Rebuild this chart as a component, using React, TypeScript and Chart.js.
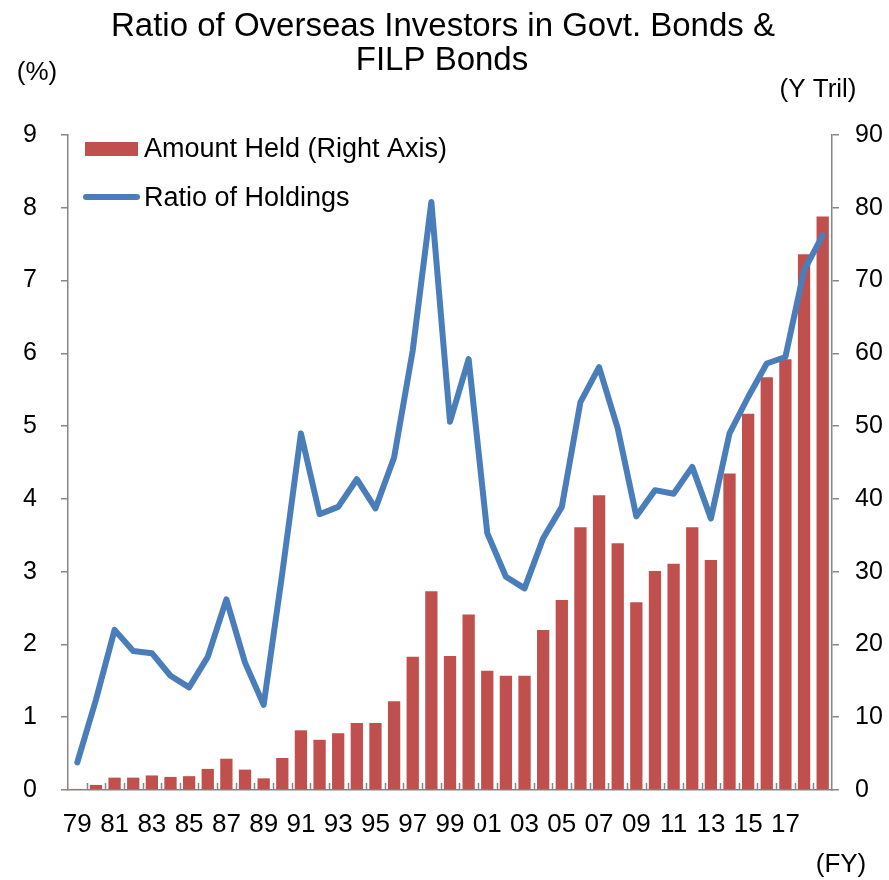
import React, { useEffect, useRef } from 'react';
import { Chart, registerables } from 'chart.js';

Chart.register(...registerables);

const categories = [
  '79', '80', '81', '82', '83', '84', '85', '86', '87', '88', '89',
  '90', '91', '92', '93', '94', '95', '96', '97', '98', '99',
  '00', '01', '02', '03', '04', '05', '06', '07', '08', '09',
  '10', '11', '12', '13', '14', '15', '16', '17', '18', '19',
];

const xTickLabels = [
  '79', '81', '83', '85', '87', '89', '91', '93', '95', '97', '99',
  '01', '03', '05', '07', '09', '11', '13', '15', '17',
];

// Amount held by overseas investors (Y Tril, right axis)
const amountHeld = [
  0.15, 0.7, 1.7, 1.7, 2.0, 1.8, 1.9, 2.9, 4.3, 2.8, 1.6,
  4.4, 8.2, 6.9, 7.8, 9.2, 9.2, 12.2, 18.3, 27.3, 18.4,
  24.1, 16.4, 15.7, 15.7, 22.0, 26.1, 36.1, 40.5, 33.9, 25.8,
  30.1, 31.1, 36.1, 31.6, 43.5, 51.7, 56.7, 59.2, 73.6, 78.8,
];

// Ratio of holdings (%, left axis)
const ratioOfHoldings = [
  0.38, 1.24, 2.2, 1.91, 1.88, 1.57, 1.41, 1.83, 2.62, 1.75, 1.17,
  2.98, 4.9, 3.79, 3.89, 4.27, 3.87, 4.57, 6.04, 8.08, 5.06,
  5.92, 3.53, 2.93, 2.77, 3.46, 3.89, 5.33, 5.81, 4.97, 3.76,
  4.12, 4.07, 4.44, 3.73, 4.9, 5.4, 5.86, 5.95, 7.14, 7.62,
];

const titleLines = ['Ratio of Overseas Investors in Govt. Bonds &', 'FILP Bonds'];
const leftUnit = '(%)';
const rightUnit = '(Y Tril)';
const xUnit = '(FY)';

const FONT = "'Liberation Sans', Arial, sans-serif";
const RED = '#C0504D';
const BLUE = '#4A7EBB';
const AXIS = '#868686';

const decorPlugin = {
  id: 'decor',
  afterDraw(chart: any) {
    const { ctx, scales } = chart;
    const x = scales.x;
    ctx.save();

    // x-axis tick marks at category boundaries, pointing up into the plot
    const n = categories.length;
    const step = (x.right - x.left) / n;
    const bottom = chart.chartArea.bottom;
    ctx.strokeStyle = AXIS;
    ctx.lineWidth = 1.5;
    ctx.beginPath();
    for (let i = 1; i < n; i++) {
      const px = Math.round(x.getPixelForValue(i) - step / 2) + 0.5;
      ctx.moveTo(px, bottom);
      ctx.lineTo(px, bottom - 7);
    }
    ctx.stroke();

    ctx.fillStyle = '#000';
    ctx.textBaseline = 'alphabetic';

    // title
    ctx.font = `33px ${FONT}`;
    ctx.textAlign = 'center';
    ctx.fillText(titleLines[0], 443, 36);
    ctx.fillText(titleLines[1], 442, 70);

    // unit labels
    ctx.font = `26px ${FONT}`;
    ctx.fillText(leftUnit, 37, 80);
    ctx.fillText(rightUnit, 818, 97);
    ctx.fillText(xUnit, 841, 872);

    // legend
    const barDs = chart.data.datasets[1];
    const lineDs = chart.data.datasets[0];
    ctx.fillStyle = barDs.backgroundColor;
    ctx.fillRect(85, 142, 53, 14);
    ctx.strokeStyle = lineDs.borderColor;
    ctx.lineWidth = 6;
    ctx.lineCap = 'round';
    ctx.beginPath();
    ctx.moveTo(86, 197);
    ctx.lineTo(137, 197);
    ctx.stroke();
    ctx.fillStyle = '#000';
    ctx.textAlign = 'left';
    ctx.font = `27px ${FONT}`;
    ctx.fillText(barDs.label, 144, 157);
    ctx.fillText(lineDs.label, 144, 206);

    ctx.restore();
  },
};

export default function App() {
  const ref = useRef<HTMLCanvasElement>(null);

  useEffect(() => {
    if (!ref.current) return;
    const chart = new Chart(ref.current, {
      type: 'bar',
      data: {
        labels: categories,
        datasets: [
          {
            type: 'line',
            label: 'Ratio of Holdings',
            data: ratioOfHoldings,
            yAxisID: 'y',
            borderColor: BLUE,
            backgroundColor: BLUE,
            borderWidth: 6,
            pointRadius: 0,
            tension: 0,
            borderCapStyle: 'round',
            borderJoinStyle: 'round',
            order: 0,
          } as any,
          {
            type: 'bar',
            label: 'Amount Held (Right Axis)',
            data: amountHeld,
            yAxisID: 'y2',
            backgroundColor: RED,
            barPercentage: 0.66,
            categoryPercentage: 1,
            order: 1,
          } as any,
        ],
      },
      options: {
        responsive: false,
        animation: false,
        devicePixelRatio: 1,
        layout: { padding: { top: 135, left: 0, right: 0, bottom: 0 } },
        plugins: {
          legend: { display: false },
          title: { display: false },
          tooltip: { enabled: false },
        },
        scales: {
          x: {
            grid: { drawOnChartArea: false, drawTicks: false, color: AXIS },
            border: { display: true, color: AXIS, width: 1.5 },
            ticks: {
              autoSkip: false,
              maxRotation: 0,
              minRotation: 0,
              padding: 19,
              color: '#000',
              font: { size: 26, family: FONT },
              callback: (_v: any, i: number) =>
                xTickLabels.includes(categories[i]) ? categories[i] : '',
            },
            afterFit: (s: any) => {
              s.height = 90;
            },
          },
          y: {
            position: 'left',
            min: 0,
            max: 9,
            ticks: {
              stepSize: 1,
              padding: 24,
              color: '#000',
              font: { size: 25, family: FONT },
            },
            grid: { drawOnChartArea: false, drawTicks: true, tickLength: 7, color: AXIS, lineWidth: 1.5 },
            border: { display: true, color: AXIS, width: 1.5 },
            afterFit: (s: any) => {
              s.width = 68;
            },
          },
          y2: {
            position: 'right',
            min: 0,
            max: 90,
            ticks: {
              stepSize: 10,
              padding: 16,
              color: '#000',
              font: { size: 25, family: FONT },
            },
            grid: { drawOnChartArea: false, drawTicks: true, tickLength: 7, color: AXIS, lineWidth: 1.5 },
            border: { display: true, color: AXIS, width: 1.5 },
            afterFit: (s: any) => {
              s.width = 57;
            },
          },
        } as any,
      },
      plugins: [decorPlugin],
    });
    return () => chart.destroy();
  }, []);

  return (
    <div style={{ position: 'absolute', left: 0, top: 0, width: 889, height: 880, background: '#fff' }}>
      <canvas ref={ref} width={889} height={880} style={{ display: 'block', width: 889, height: 880 }} />
    </div>
  );
}
